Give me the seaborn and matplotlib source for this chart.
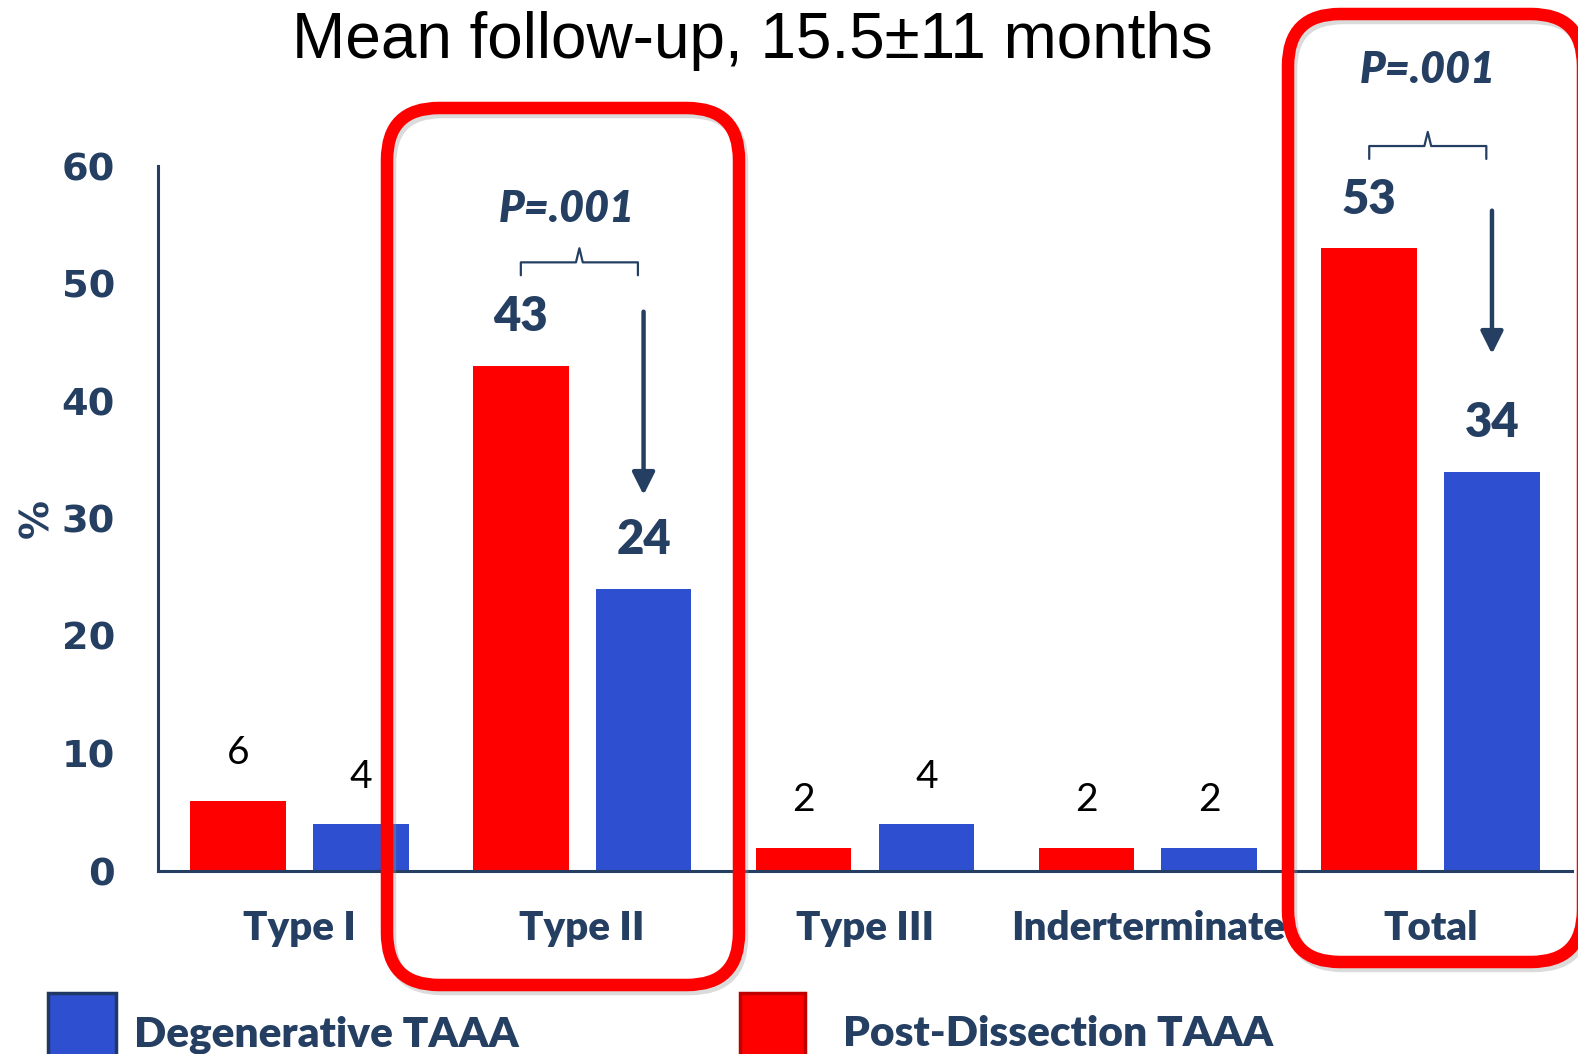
import matplotlib
matplotlib.use("Agg")
import matplotlib.pyplot as plt
import seaborn as sns
import pandas as pd
from matplotlib.patches import FancyBboxPatch, Rectangle
from matplotlib.transforms import IdentityTransform

# data
categories = ["Type I", "Type II", "Type III", "Inderterminate", "Total"]
post_dissection = [6, 43, 2, 2, 53]
degenerative = [4, 24, 4, 2, 34]
groups = ["Post-Dissection TAAA", "Degenerative TAAA"]
highlighted = ["Type II", "Total"]
p_text = "P=.001"

NAVY = "#243F62"
RED = "#FF0000"
BLUE = "#2E4FD0"
HEAVY = "heavy"

df = pd.DataFrame({
    "category": categories * 2,
    "group": [groups[0]] * len(categories) + [groups[1]] * len(categories),
    "value": post_dissection + degenerative,
})

sns.set_style("white")
plt.rcParams["font.family"] = ["Lato", "DejaVu Sans"]

W, H = 1578, 1054
fig = plt.figure(figsize=(W / 100, H / 100), dpi=100)
ax = fig.add_axes([158 / W, 183 / H, (1572 - 158) / W, 705 / H])

sns.barplot(data=df, x="category", y="value", hue="group", hue_order=groups,
            palette=[RED, BLUE], width=0.868, gap=0.22, saturation=1,
            errorbar=None, legend=False, linewidth=0, ax=ax)

ax.set_xlim(-0.5, 4.5)
ax.set_ylim(0, 60)
ax.set_yticks(range(0, 61, 10))
ax.set_xlabel("")
ax.set_ylabel("%", fontsize=28, fontweight="bold", color=NAVY, family="DejaVu Sans")
ax.yaxis.set_label_coords(-0.072, 0.5)
sns.despine(ax=ax)
for side in ["left", "bottom"]:
    ax.spines[side].set_color(NAVY)
    ax.spines[side].set_linewidth(2.2)
ax.tick_params(axis="y", length=0, pad=31, labelsize=27.5, labelcolor=NAVY)
ax.tick_params(axis="x", length=0, pad=28, labelsize=29, labelcolor=NAVY)
for t in ax.get_yticklabels():
    t.set_fontfamily("DejaVu Sans")
    t.set_fontweight("bold")
for t in ax.get_xticklabels():
    t.set_fontweight(HEAVY)

# value labels above the bars
for container, vals in zip(ax.containers, [post_dissection, degenerative]):
    for bar, cat, v in zip(container, categories, vals):
        x = bar.get_x() + bar.get_width() / 2
        if cat in highlighted:
            ax.annotate(str(v), (x, v), xytext=(0, 35), textcoords="offset points",
                        ha="center", va="center", fontsize=34, fontweight=HEAVY,
                        color=NAVY, annotation_clip=False)
        else:
            ax.annotate(str(v), (x, v), xytext=(0, 34), textcoords="offset points",
                        ha="center", va="center", fontsize=28, color="black",
                        annotation_clip=False)

# braces, p-values and arrows over the highlighted groups
brace_y = {"Type II": 51.8, "Total": 61.7}
p_y = {"Type II": 56.3, "Total": 68.2}
p_shift = {"Type II": -0.045, "Total": 0.0}
arrow_y = {"Type II": (47.6, 32.0), "Total": (56.2, 44.0)}
for cat in highlighted:
    i = categories.index(cat)
    r = ax.containers[0][i]
    b = ax.containers[1][i]
    x0 = r.get_x() + r.get_width() / 2
    x1 = b.get_x() + b.get_width() / 2 - 0.02
    xm = (x0 + x1) / 2
    y = brace_y[cat]
    ax.plot([x0, x0, xm - 0.012, xm, xm + 0.012, x1, x1],
            [y - 1.1, y, y, y + 1.2, y, y, y - 1.1],
            color=NAVY, lw=1.6, clip_on=False, solid_joinstyle="round")
    ax.text(xm + p_shift[cat], p_y[cat], p_text, ha="center", va="center", fontsize=31,
            fontweight=HEAVY, fontstyle="italic", color=NAVY, clip_on=False)
    bx = b.get_x() + b.get_width() / 2
    y_start, y_tip = arrow_y[cat]
    ax.annotate("", xy=(bx, y_tip), xytext=(bx, y_start),
                arrowprops=dict(arrowstyle="-|>", color=NAVY, lw=3.2,
                                mutation_scale=34, shrinkA=0, shrinkB=0),
                annotation_clip=False)

# rounded red highlight boxes (pixel coordinates)
# a near-invisible face keeps Agg from clipping the curved outline at the canvas edge
ident = IdentityTransform()
ghost = (1, 1, 1, 0.001)
for x0, y_top, x1, y_bot in [(387, 108, 739, 985), (1288, 14, 1583, 962)]:
    shadow = FancyBboxPatch((x0 + 3, H - y_bot - 4), x1 - x0, y_bot - y_top,
                            boxstyle="round,pad=0,rounding_size=52", transform=ident,
                            fc=ghost, ec=(0.6, 0.6, 0.6, 0.35), lw=9)
    box = FancyBboxPatch((x0, H - y_bot), x1 - x0, y_bot - y_top,
                         boxstyle="round,pad=0,rounding_size=52", transform=ident,
                         fc=ghost, ec=RED, lw=9)
    fig.add_artist(shadow)
    fig.add_artist(box)

# legend at the bottom
fig.add_artist(Rectangle((48, -12), 68, H - 993 + 12, transform=ident,
                         fc=BLUE, ec="#1F3864", lw=2.5))
fig.add_artist(Rectangle((740, -12), 65, H - 993 + 12, transform=ident,
                         fc=RED, ec="#C00000", lw=2.5))
fig.text(134, H - 1046, groups[1], transform=ident, ha="left", va="baseline",
         fontsize=30.5, fontweight=HEAVY, color=NAVY)
fig.text(843, H - 1046, groups[0], transform=ident, ha="left", va="baseline",
         fontsize=30.5, fontweight=HEAVY, color=NAVY)

fig.text(752, H - 58, "Mean follow-up, 15.5\u00b111 months", transform=ident,
         ha="center", va="baseline", fontsize=46, family="Liberation Sans", color="black")

fig.savefig("out.png", dpi=100)
